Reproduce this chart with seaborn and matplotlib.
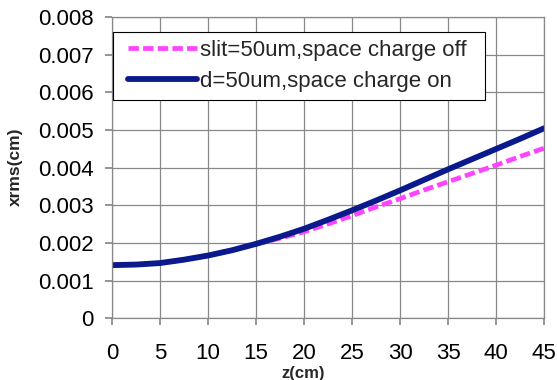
import seaborn as sns
import matplotlib.pyplot as plt
import pandas as pd
from matplotlib.path import Path
from matplotlib.ticker import FuncFormatter

z_cm = [0, 2.5, 5, 7.5, 10, 12.5, 15, 17.5, 20, 22.5, 25, 27.5, 30, 32.5, 35, 37.5, 40, 42.5, 45]
xrms_off = [0.001415, 0.00143, 0.00147, 0.00156, 0.00167, 0.00181, 0.00197, 0.00213, 0.00230,
            0.00251, 0.00273, 0.00296, 0.00318, 0.00341, 0.00363, 0.00385, 0.00407, 0.00430, 0.00452]
xrms_on = [0.001415, 0.00143, 0.00147, 0.00156, 0.00167, 0.00181, 0.00198, 0.00217, 0.00238,
           0.00262, 0.00287, 0.00313, 0.00340, 0.00368, 0.00396, 0.00423, 0.00450, 0.00477, 0.00505]
labels = ['slit=50um,space charge off', 'd=50um,space charge on']

df = pd.DataFrame({
    'z': z_cm * 2,
    'xrms': xrms_off + xrms_on,
    'case': [labels[0]] * len(z_cm) + [labels[1]] * len(z_cm),
})

sns.set_theme(style='whitegrid')
plt.rcParams['font.family'] = ['Liberation Sans', 'DejaVu Sans']

fig = plt.figure(figsize=(5.57, 3.8), dpi=100)
ax = fig.add_axes([0.201, 0.162, 0.776, 0.793])

sns.lineplot(data=df[df.case == labels[0]], x='z', y='xrms', color='#ff44ff',
             linewidth=3.4, linestyle=(0, (2.2, 0.9)), label=labels[0], ax=ax)
sns.lineplot(data=df[df.case == labels[1]], x='z', y='xrms', color='#0a1a8c',
             linewidth=4.2, label=labels[1], ax=ax)

ax.set_xlim(0, 45)
ax.set_ylim(0, 0.008)
ax.set_xticks(range(0, 46, 5))
ax.set_yticks([i * 0.001 for i in range(9)])
ax.yaxis.set_major_formatter(FuncFormatter(lambda v, p: '0' if abs(v) < 1e-9 else f'{v:.3f}'))
ax.grid(True, color='#888888', linewidth=0.9)
for s in ax.spines.values():
    s.set_visible(True)
    s.set_color('#888888')
    s.set_linewidth(0.9)
ax.tick_params(axis='both', which='major', labelsize=16, length=5, color='#888888',
               direction='out', bottom=True, left=True, labelcolor='black')
ax.tick_params(axis='x', pad=13)
ax.tick_params(axis='y', pad=8)

ax.set_xlabel('z(cm)', fontsize=12, fontweight='bold', va='center')
ax.xaxis.set_label_coords(0.442, -0.183)
ax.set_ylabel('xrms(cm)', fontsize=12.5, fontweight='bold', va='center')
ax.yaxis.set_label_coords(-0.2245, 0.502)

leg = ax.legend(loc='upper left', bbox_to_anchor=(0.0185, 0.95), borderaxespad=0, fontsize=16,
                frameon=True, fancybox=False, edgecolor='black', framealpha=1,
                handlelength=3.1, handletextpad=0.15, borderpad=0.35, labelspacing=0.45)
leg.get_frame().set_linewidth(0.8)


# excel-style legend box: a bit more room left and right than top/bottom
def wide_box(x0, y0, width, height, mutation_size):
    l, r = 0.32 * mutation_size, 0.5 * mutation_size
    return Path([(x0 - l, y0), (x0 + width + r, y0), (x0 + width + r, y0 + height),
                 (x0 - l, y0 + height), (x0 - l, y0)], closed=True)


leg.get_frame().set_boxstyle(wide_box)

plt.savefig('out.png', dpi=100)
